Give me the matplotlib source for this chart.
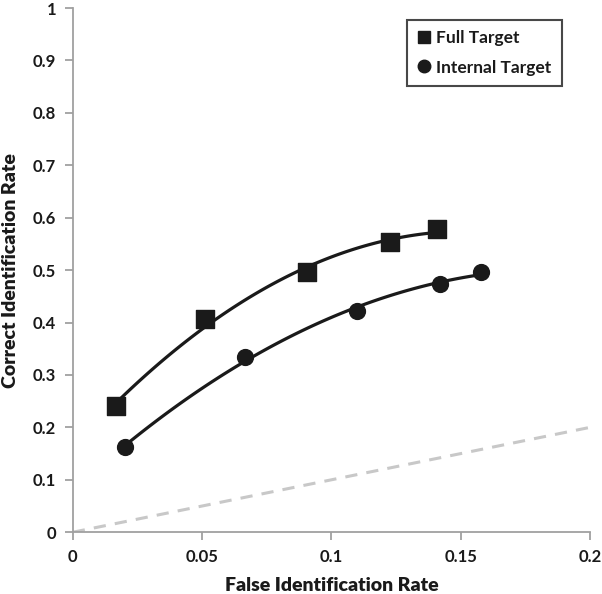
import numpy as np
import matplotlib
matplotlib.use('Agg')
import matplotlib.pyplot as plt
from matplotlib.lines import Line2D

plt.rcParams['font.family'] = ['Lato', 'DejaVu Sans']

# data
full_x = [0.0166, 0.051, 0.0905, 0.1226, 0.1408]
full_y = [0.240, 0.406, 0.496, 0.553, 0.578]
internal_x = [0.0201, 0.0665, 0.110, 0.142, 0.158]
internal_y = [0.162, 0.335, 0.422, 0.474, 0.496]
chance = [0, 0.2]

xticks = [0, 0.05, 0.1, 0.15, 0.2]
xticklabels = ['0', '0.05', '0.1', '0.15', '0.2']
yticks = [0, 0.1, 0.2, 0.3, 0.4, 0.5, 0.6, 0.7, 0.8, 0.9, 1]
yticklabels = ['0', '0.1', '0.2', '0.3', '0.4', '0.5', '0.6', '0.7', '0.8', '0.9', '1']


def smooth(xs, ys):
    # quadratic trend through the points
    c = np.polyfit(xs, ys, 2)
    gx = np.linspace(min(xs), max(xs), 100)
    return gx, np.polyval(c, gx)


fig = plt.figure(figsize=(6.02, 5.94), dpi=100)
ax = fig.add_axes([0.121, 0.104, 0.859, 0.8825])

ax.plot(chance, chance, color='#c8c8c8', lw=2.2, ls=(0, (4, 3)), zorder=1)

sx, sy = smooth(full_x, full_y)
ax.plot(sx, sy, color='#1a1a1a', lw=2.3, zorder=2)
sx, sy = smooth(internal_x, internal_y)
ax.plot(sx, sy, color='#1a1a1a', lw=2.3, zorder=2)

ax.scatter(full_x, full_y, marker='s', s=150, color='#1a1a1a', zorder=3)
ax.scatter(internal_x, internal_y, marker='o', s=130, color='#1a1a1a', zorder=3)

ax.set_xlim(0, 0.2)
ax.set_ylim(0, 1)
ax.set_xticks(xticks)
ax.set_xticklabels(xticklabels)
ax.set_yticks(yticks)
ax.set_yticklabels(yticklabels)

for s in ['top', 'right']:
    ax.spines[s].set_visible(False)
for s in ['left', 'bottom']:
    ax.spines[s].set_color('#a0a0a0')
    ax.spines[s].set_linewidth(1.3)
ax.tick_params(direction='out', length=6, width=1.3, color='#a0a0a0',
               labelsize=12, labelcolor='#1a1a1a', pad=6)
for lab in ax.get_xticklabels() + ax.get_yticklabels():
    lab.set_fontweight('bold')

ax.set_xlabel('False Identification Rate', fontsize=14, fontweight='heavy',
              color='#1a1a1a', labelpad=9)
ax.set_ylabel('Correct Identification Rate', fontsize=14, fontweight='heavy',
              color='#1a1a1a', labelpad=10)

handles = [Line2D([], [], marker='s', ls='', color='#1a1a1a', markersize=9),
           Line2D([], [], marker='o', ls='', color='#1a1a1a', markersize=9)]
leg = ax.legend(handles, ['Full Target', 'Internal Target'], loc='upper right',
                bbox_to_anchor=(0.946, 0.977), frameon=True, fancybox=False,
                edgecolor='#1a1a1a', fontsize=12.5, handletextpad=0.3,
                handlelength=0.8, labelspacing=0.75, borderpad=0.6,
                borderaxespad=0)
leg.get_frame().set_linewidth(1.5)
for t in leg.get_texts():
    t.set_fontweight('bold')
    t.set_color('#1a1a1a')

fig.savefig('out.png', dpi=100)
